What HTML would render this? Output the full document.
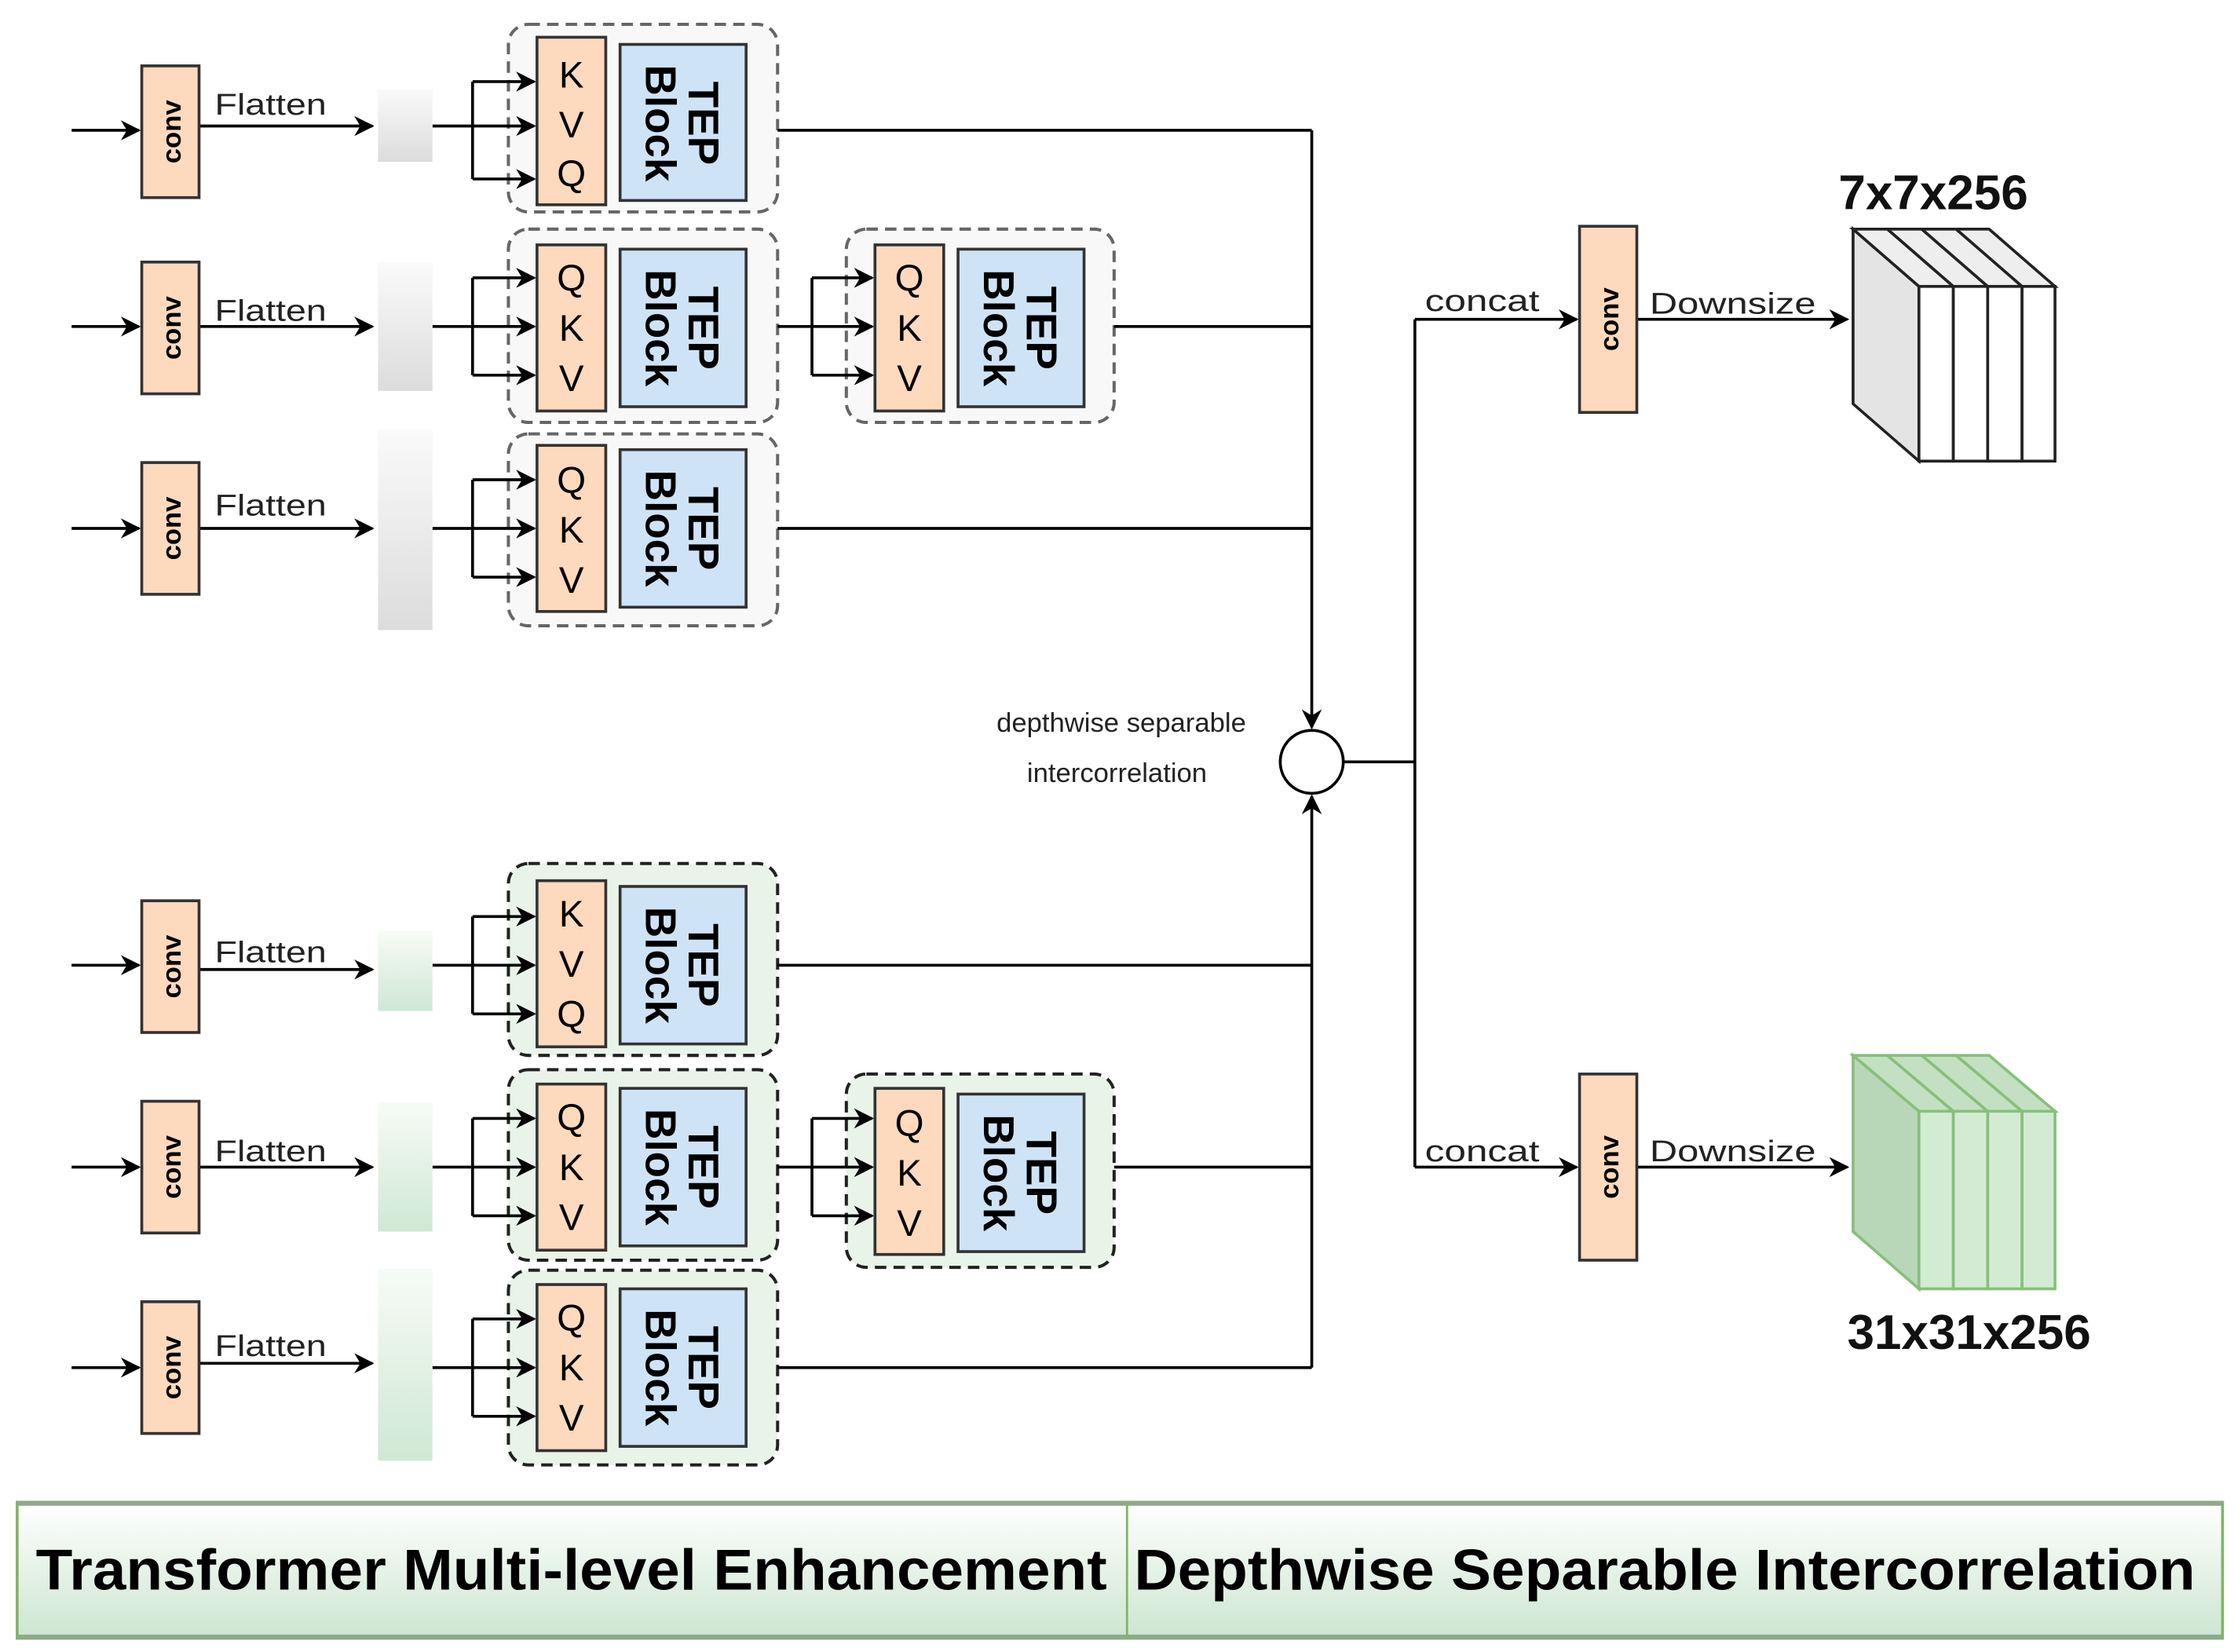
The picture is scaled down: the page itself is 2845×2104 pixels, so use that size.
<!DOCTYPE html>
<html><head><meta charset="utf-8"><style>html,body{margin:0;padding:0;background:#fff}svg{display:block}</style></head>
<body>
<svg width="2845" height="2104" viewBox="0 0 1560 1153.6" preserveAspectRatio="none" xmlns="http://www.w3.org/2000/svg" font-family="Liberation Sans, sans-serif">
<defs>
<marker id="b" viewBox="0 0 10 10" refX="9" refY="5" markerWidth="14" markerHeight="14" markerUnits="userSpaceOnUse" orient="auto"><path d="M0,0 L10,5 L0,10 L3,5 z" fill="#000"/></marker>
<linearGradient id="fg" x1="0" y1="0" x2="0" y2="1"><stop offset="0" stop-color="#fafafa"/><stop offset="1" stop-color="#dcdcdc"/></linearGradient>
<linearGradient id="fgg" x1="0" y1="0" x2="0" y2="1"><stop offset="0" stop-color="#f7fbf7"/><stop offset="1" stop-color="#cfe8d3"/></linearGradient>
<linearGradient id="bar" x1="0" y1="0" x2="0" y2="1"><stop offset="0" stop-color="#ffffff"/><stop offset="1" stop-color="#cce6d0"/></linearGradient>
</defs>
<g stroke-dasharray="8 5" stroke-width="2.2">
<rect x="355" y="17" width="188" height="131" rx="14" fill="#f3f3f3" fill-opacity="0.6" stroke="#666"/>
<rect x="355" y="160" width="188" height="135" rx="14" fill="#f3f3f3" fill-opacity="0.6" stroke="#666"/>
<rect x="591" y="160" width="187" height="135" rx="14" fill="#f3f3f3" fill-opacity="0.6" stroke="#666"/>
<rect x="355" y="303" width="188" height="134" rx="14" fill="#f3f3f3" fill-opacity="0.6" stroke="#666"/>
<rect x="355" y="603" width="188" height="134" rx="14" fill="#dff0df" fill-opacity="0.7" stroke="#222"/>
<rect x="355" y="747" width="188" height="133" rx="14" fill="#dff0df" fill-opacity="0.7" stroke="#222"/>
<rect x="591" y="750" width="187" height="135" rx="14" fill="#dff0df" fill-opacity="0.7" stroke="#222"/>
<rect x="355" y="887" width="188" height="136" rx="14" fill="#dff0df" fill-opacity="0.7" stroke="#222"/>
</g>
<g stroke="#000" stroke-width="2" fill="none">
<path d="M330,57V125M330,194V262M330,335V403M330,640V708M330,781V849M330,921V989M567,194V262M567,781V849"/>
<path d="M543,91H916M778,228H916M543,369H916M543,674H916M778,815H916M543,955H916"/>
<path d="M938,532H988M988,223V815"/>
</g>
<g stroke="#000" stroke-width="2" fill="none" marker-end="url(#b)">
<path d="M50,91H97"/><path d="M139,88H260"/><path d="M50,228H97"/><path d="M139,228H260"/><path d="M50,369H97"/><path d="M139,369H260"/>
<path d="M50,674H97"/><path d="M139,677H260"/><path d="M50,815H97"/><path d="M139,815H260"/><path d="M50,955H97"/><path d="M139,952H260"/>
<path d="M302,88H373"/><path d="M330,57H373"/><path d="M330,125H373"/>
<path d="M302,228H373"/><path d="M330,194H373"/><path d="M330,262H373"/>
<path d="M302,369H373"/><path d="M330,335H373"/><path d="M330,403H373"/>
<path d="M302,674H373"/><path d="M330,640H373"/><path d="M330,708H373"/>
<path d="M302,815H373"/><path d="M330,781H373"/><path d="M330,849H373"/>
<path d="M302,955H373"/><path d="M330,921H373"/><path d="M330,989H373"/>
<path d="M543,228H609"/><path d="M567,194H609"/><path d="M567,262H609"/>
<path d="M543,815H609"/><path d="M567,781H609"/><path d="M567,849H609"/>
<path d="M916,91V508"/><path d="M916,955V556"/>
<path d="M988,223H1101"/><path d="M988,815H1101"/><path d="M1143,223H1290"/><path d="M1143,815H1290"/>
</g>
<circle cx="916" cy="532" r="22" fill="#fff" stroke="#000" stroke-width="2"/>
<rect x="264" y="62" width="38" height="51" fill="url(#fg)"/>
<rect x="264" y="183" width="38" height="90" fill="url(#fg)"/>
<rect x="264" y="300" width="38" height="140" fill="url(#fg)"/>
<rect x="264" y="650" width="38" height="56" fill="url(#fgg)"/>
<rect x="264" y="770" width="38" height="90" fill="url(#fgg)"/>
<rect x="264" y="886" width="38" height="134" fill="url(#fgg)"/>
<g fill="#fdd9bd" stroke="#333" stroke-width="2">
<rect x="99" y="46" width="40" height="92"/><rect x="99" y="183" width="40" height="92"/><rect x="99" y="323" width="40" height="92"/>
<rect x="99" y="629" width="40" height="92"/><rect x="99" y="769" width="40" height="92"/><rect x="99" y="909" width="40" height="92"/>
<rect x="1103" y="158" width="40" height="130"/><rect x="1103" y="750" width="40" height="130"/>
<rect x="375" y="26" width="48" height="117"/><rect x="375" y="171" width="48" height="116"/><rect x="375" y="311" width="48" height="116"/>
<rect x="375" y="615" width="48" height="116"/><rect x="375" y="757" width="48" height="116"/><rect x="375" y="897" width="48" height="116"/>
<rect x="611" y="171" width="48" height="116"/><rect x="611" y="760" width="48" height="116"/>
</g>
<g fill="#cfe3f7" stroke="#333" stroke-width="2">
<rect x="433" y="31" width="88" height="109"/><rect x="433" y="174" width="88" height="110"/><rect x="433" y="314" width="88" height="110"/>
<rect x="433" y="619" width="88" height="110"/><rect x="433" y="760" width="88" height="110"/><rect x="433" y="900" width="88" height="110"/>
<rect x="669" y="174" width="88" height="110"/><rect x="669" y="764" width="88" height="110"/>
</g>
<g font-size="19" font-weight="bold" text-anchor="middle" fill="#000">
<text transform="translate(126,92) rotate(-90)">conv</text>
<text transform="translate(126,229) rotate(-90)">conv</text>
<text transform="translate(126,369) rotate(-90)">conv</text>
<text transform="translate(126,675) rotate(-90)">conv</text>
<text transform="translate(126,815) rotate(-90)">conv</text>
<text transform="translate(126,955) rotate(-90)">conv</text>
<text transform="translate(1130,223) rotate(-90)">conv</text>
<text transform="translate(1130,815) rotate(-90)">conv</text>
</g>
<g font-size="21" fill="#222">
<text x="150" y="80" textLength="78" lengthAdjust="spacingAndGlyphs">Flatten</text><text x="150" y="224" textLength="78" lengthAdjust="spacingAndGlyphs">Flatten</text><text x="150" y="360" textLength="78" lengthAdjust="spacingAndGlyphs">Flatten</text>
<text x="150" y="672" textLength="78" lengthAdjust="spacingAndGlyphs">Flatten</text><text x="150" y="811" textLength="78" lengthAdjust="spacingAndGlyphs">Flatten</text><text x="150" y="947" textLength="78" lengthAdjust="spacingAndGlyphs">Flatten</text>
<text x="995" y="217" textLength="80" lengthAdjust="spacingAndGlyphs">concat</text><text x="995" y="811" textLength="80" lengthAdjust="spacingAndGlyphs">concat</text>
<text x="1152" y="219" textLength="116" lengthAdjust="spacingAndGlyphs">Downsize</text><text x="1152" y="811" textLength="116" lengthAdjust="spacingAndGlyphs">Downsize</text>
</g>
<g font-size="26" text-anchor="middle" fill="#000">
<text x="399" y="61">K</text><text x="399" y="96">V</text><text x="399" y="130">Q</text>
<text x="399" y="203">Q</text><text x="399" y="238">K</text><text x="399" y="273">V</text>
<text x="399" y="344">Q</text><text x="399" y="379">K</text><text x="399" y="414">V</text>
<text x="399" y="647">K</text><text x="399" y="682">V</text><text x="399" y="717">Q</text>
<text x="399" y="789">Q</text><text x="399" y="824">K</text><text x="399" y="859">V</text>
<text x="399" y="929">Q</text><text x="399" y="964">K</text><text x="399" y="999">V</text>
<text x="635" y="203">Q</text><text x="635" y="238">K</text><text x="635" y="273">V</text>
<text x="635" y="793">Q</text><text x="635" y="828">K</text><text x="635" y="863">V</text>
</g>
<g font-size="30" font-weight="bold" text-anchor="middle" fill="#000">
<g transform="translate(477,86) rotate(90)"><text y="-4">TEP</text><text y="26">Block</text></g>
<g transform="translate(477,229) rotate(90)"><text y="-4">TEP</text><text y="26">Block</text></g>
<g transform="translate(477,369) rotate(90)"><text y="-4">TEP</text><text y="26">Block</text></g>
<g transform="translate(477,674) rotate(90)"><text y="-4">TEP</text><text y="26">Block</text></g>
<g transform="translate(477,815) rotate(90)"><text y="-4">TEP</text><text y="26">Block</text></g>
<g transform="translate(477,955) rotate(90)"><text y="-4">TEP</text><text y="26">Block</text></g>
<g transform="translate(713,229) rotate(90)"><text y="-4">TEP</text><text y="26">Block</text></g>
<g transform="translate(713,819) rotate(90)"><text y="-4">TEP</text><text y="26">Block</text></g>
</g>
<g font-size="19" text-anchor="middle" fill="#222">
<text x="783" y="511">depthwise separable</text>
<text x="780" y="546">intercorrelation</text>
</g>
<g stroke="#222" stroke-width="2">
<polygon points="1294,160 1340,200 1340,322 1294,282" fill="#e4e4e4"/>
<polygon points="1294,160 1318,160 1364,200 1340,200" fill="#eee"/>
<polygon points="1318,160 1342,160 1388,200 1364,200" fill="#eee"/>
<polygon points="1342,160 1366,160 1412,200 1388,200" fill="#eee"/>
<polygon points="1366,160 1389,160 1435,200 1412,200" fill="#eee"/>
<rect x="1340" y="200" width="24" height="122" fill="#fff"/><rect x="1364" y="200" width="24" height="122" fill="#fff"/>
<rect x="1388" y="200" width="24" height="122" fill="#fff"/><rect x="1412" y="200" width="23" height="122" fill="#fff"/>
</g>
<g stroke="#86c07a" stroke-width="2">
<polygon points="1294,737 1340,776 1340,900 1294,860" fill="#b8d7b8"/>
<polygon points="1294,737 1318,737 1364,776 1340,776" fill="#c3e0c3"/>
<polygon points="1318,737 1342,737 1388,776 1364,776" fill="#c3e0c3"/>
<polygon points="1342,737 1366,737 1412,776 1388,776" fill="#c3e0c3"/>
<polygon points="1366,737 1389,737 1435,776 1412,776" fill="#c3e0c3"/>
<rect x="1340" y="776" width="24" height="124" fill="#d3ebd3"/><rect x="1364" y="776" width="24" height="124" fill="#d3ebd3"/>
<rect x="1388" y="776" width="24" height="124" fill="#d3ebd3"/><rect x="1412" y="776" width="23" height="124" fill="#d3ebd3"/>
</g>
<g font-size="34" font-weight="bold" text-anchor="middle" fill="#111">
<text x="1350" y="146">7x7x256</text>
<text x="1375" y="942">31x31x256</text>
</g>
<rect x="12" y="1049" width="1540" height="95" fill="url(#bar)" stroke="#82b366" stroke-width="2"/>
<path d="M12,1050H1552M12,1143H1552" stroke="#8fa88f" stroke-width="3"/>
<path d="M787,1049V1144" stroke="#82b366" stroke-width="1.5"/>
<g font-size="40" font-weight="bold" fill="#000">
<text x="25" y="1110" textLength="748" lengthAdjust="spacingAndGlyphs">Transformer Multi-level Enhancement</text>
<text x="792" y="1110" textLength="741" lengthAdjust="spacingAndGlyphs">Depthwise Separable Intercorrelation</text>
</g>
</svg>
</body></html>
